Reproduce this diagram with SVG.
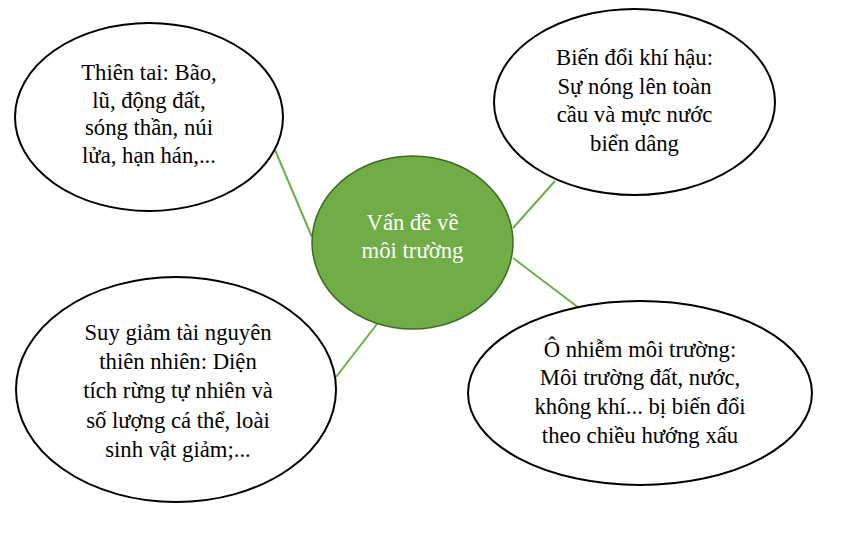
<svg xmlns="http://www.w3.org/2000/svg" width="848" height="536" viewBox="0 0 848 536">
<style>
.bubble{fill:#FFFFFF;stroke:#000000;stroke-width:2}
.core{fill:#70AD47;stroke:#3D6B24;stroke-width:1.5}
.link{stroke:#70AD47;stroke-width:2;fill:none}
text{font-family:"Liberation Serif","Times New Roman",serif;font-size:22.7px;text-anchor:middle;fill:#000000}
.white{fill:#FFFFFF}
</style>
<rect width="848" height="536" fill="#FFFFFF"/>
<g id="connectors">
<line class="link" x1="275" y1="150" x2="312" y2="237"/>
<line class="link" x1="555" y1="181" x2="513" y2="228"/>
<line class="link" x1="513" y1="258" x2="579" y2="308"/>
<line class="link" x1="377" y1="324" x2="336" y2="377"/>
</g>
<g id="node-center">
<ellipse class="core" cx="412.5" cy="242.5" rx="100.5" ry="86.5"/>
<text class="white" x="412.5" y="230">Vấn đề về</text>
<text class="white" x="412.5" y="258">môi trường</text>
</g>
<g id="node-thien-tai">
<ellipse class="bubble" cx="149" cy="117" rx="134" ry="94"/>
<text x="149" y="80">Thiên tai: Bão,</text>
<text x="149" y="107.5">lũ, động đất,</text>
<text x="149" y="135">sóng thần, núi</text>
<text x="149" y="163">lửa, hạn hán,...</text>
</g>
<g id="node-bien-doi">
<ellipse class="bubble" cx="634.5" cy="102" rx="140.5" ry="93"/>
<text x="634.5" y="65">Biến đổi khí hậu:</text>
<text x="634.5" y="93.5">Sự nóng lên toàn</text>
<text x="634.5" y="122">cầu và mực nước</text>
<text x="634.5" y="151">biển dâng</text>
</g>
<g id="node-suy-giam">
<ellipse class="bubble" cx="176" cy="389.5" rx="160" ry="112.5"/>
<text x="178" y="340">Suy giảm tài nguyên</text>
<text x="178" y="369">thiên nhiên: Diện</text>
<text x="178" y="398">tích rừng tự nhiên và</text>
<text x="178" y="428">số lượng cá thể, loài</text>
<text x="178" y="457">sinh vật giảm;...</text>
</g>
<g id="node-o-nhiem">
<ellipse class="bubble" cx="640" cy="393" rx="172" ry="92"/>
<text x="640" y="357">Ô nhiễm môi trường:</text>
<text x="640" y="385">Môi trường đất, nước,</text>
<text x="640" y="414">không khí... bị biến đổi</text>
<text x="640" y="443">theo chiều hướng xấu</text>
</g>
</svg>
